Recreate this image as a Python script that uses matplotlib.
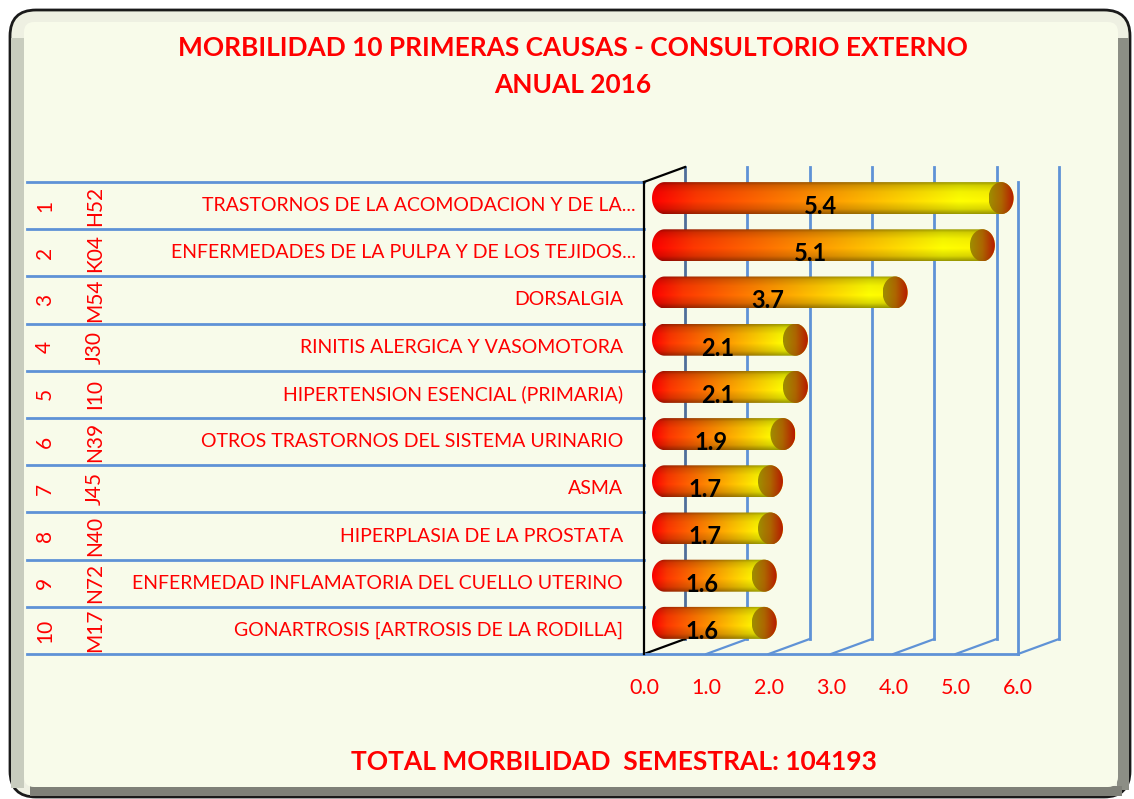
import numpy as np
import matplotlib
matplotlib.use("Agg")
import matplotlib.pyplot as plt
from matplotlib.patches import FancyBboxPatch, Rectangle, Ellipse, PathPatch
from matplotlib.path import Path
from matplotlib import transforms

# ---------------- data ----------------
ranks = ["1", "2", "3", "4", "5", "6", "7", "8", "9", "10"]
codes = ["H52", "K04", "M54", "J30", "I10", "N39", "J45", "N40", "N72", "M17"]
causes = [
    "TRASTORNOS DE LA ACOMODACION Y DE LA...",
    "ENFERMEDADES DE LA PULPA Y DE LOS TEJIDOS...",
    "DORSALGIA",
    "RINITIS ALERGICA Y VASOMOTORA",
    "HIPERTENSION ESENCIAL (PRIMARIA)",
    "OTROS TRASTORNOS DEL SISTEMA URINARIO",
    "ASMA",
    "HIPERPLASIA DE LA PROSTATA",
    "ENFERMEDAD INFLAMATORIA DEL CUELLO UTERINO",
    "GONARTROSIS [ARTROSIS DE LA RODILLA]",
]
values = [5.4, 5.1, 3.7, 2.1, 2.1, 1.9, 1.7, 1.7, 1.6, 1.6]
xticks = [0, 1, 2, 3, 4, 5, 6]
title1 = "MORBILIDAD 10 PRIMERAS CAUSAS - CONSULTORIO EXTERNO"
title2 = "ANUAL 2016"
footer = "TOTAL MORBILIDAD  SEMESTRAL: 104193"

# ---------------- style ----------------
W, H = 1134, 799
BG = "#F8FBEA"
RED = "#FF0000"
GRID = "#5F92D6"
FONT = "Lato"
plt.rcParams["font.family"] = [FONT, "DejaVu Sans"]

fig = plt.figure(figsize=(W / 100, H / 100), dpi=100)
fig.patch.set_facecolor("white")

# background / frame axes in pixel coordinates
bg = fig.add_axes([0, 0, 1, 1])
bg.set_xlim(0, W)
bg.set_ylim(H, 0)
bg.axis("off")
bg.add_patch(FancyBboxPatch((10, 10), 1120, 787, boxstyle="round,pad=0,rounding_size=26",
                            fc="#EEF0E2", ec="#1a1a1a", lw=2, zorder=0))
bg.add_patch(Rectangle((11, 38), 13, 750, fc="#C8CCBE", ec="none", zorder=1))
bg.add_patch(Rectangle((1117, 38), 12, 752, fc="#8C8E85", ec="none", zorder=1))
bg.add_patch(Rectangle((30, 786), 1092, 10, fc="#7F8078", ec="none", zorder=1))
bg.add_patch(FancyBboxPatch((24, 22), 1094, 765, boxstyle="round,pad=0,rounding_size=10",
                            fc=BG, ec="none", zorder=2))
bg.text(573, 48, title1, ha="center", va="center", color=RED, fontsize=18.9,
        fontweight="bold", zorder=5)
bg.text(573, 85, title2, ha="center", va="center", color=RED, fontsize=18.9,
        fontweight="bold", zorder=5)
bg.text(614, 762, footer, ha="center", va="center", color=RED, fontsize=19,
        fontweight="bold", zorder=5)

# chart axes: front plane, values 0..6 horizontally, categories as rows
L, R, T, B = 644, 1018, 182, 654
ax = fig.add_axes([L / W, 1 - B / H, (R - L) / W, (B - T) / H])
ax.patch.set_visible(False)
ax.axis("off")
n = len(values)
XMAX = xticks[-1]
ax.set_xlim(0, XMAX)
ax.set_ylim(n - 0.5, -0.5)
px_x = (R - L) / XMAX          # pixels per value unit
px_y = (B - T) / n             # pixels per row
DX = 41 / px_x                 # depth offset in data units
DY = -15 / px_y

ytop, ybot = -0.5, n - 0.5
# back wall gridlines
for t in xticks:
    col = "#4F6E9A" if t == 0 else GRID
    ax.plot([t + DX, t + DX], [ytop + DY, ybot + DY], color=col, lw=2, zorder=1, clip_on=False)
    ax.plot([t, t + DX], [ybot, ybot + DY], color=GRID if t else "black", lw=1.6, zorder=1, clip_on=False)
# floor front edge
ax.plot([0, XMAX], [ybot, ybot], color=GRID, lw=2, zorder=1, clip_on=False)
# right front edge
ax.plot([XMAX, XMAX], [ytop, ybot], color=GRID, lw=2, zorder=1, clip_on=False)
# left wall (front edge + top)
ax.plot([0, 0], [ytop, ybot], color="black", lw=1.6, zorder=6, clip_on=False)
ax.plot([0, DX], [ytop, ytop + DY], color="black", lw=1.6, zorder=6, clip_on=False)

# category table on the left
tx = transforms.blended_transform_factory(fig.transFigure, ax.transData)
for k in range(n + 1):
    ax.plot([27 / W, L / W], [k - 0.5, k - 0.5], color=GRID, lw=2, transform=tx, zorder=2, clip_on=False)
for i in range(n):
    ax.text(45 / W, i, ranks[i], rotation=90, ha="center", va="center", color=RED,
            fontsize=15, transform=tx)
    ax.text(95 / W, i, codes[i], rotation=90, ha="center", va="center", color=RED,
            fontsize=15, transform=tx)
    xr = 636 if causes[i].endswith("...") else 623
    ax.text(xr / W, i, causes[i], ha="right", va="center", color=RED,
            fontsize=14, transform=tx)

# x tick labels under the floor
for t in xticks:
    ax.text(t, ybot + 34 / px_y, f"{t:.1f}", ha="center", va="center", color=RED,
            fontsize=15.5, clip_on=False)

# cylinder bars (at middle depth)
a = 12.5 / px_x      # cap half width (data)
hh = 32 / px_y       # bar thickness (rows)
nx, ny = 200, 60
tt = np.linspace(0, 1, nx)
uu = np.linspace(0, 1, ny)
G = np.interp(tt, [0, 0.12, 0.5, 0.85, 1.0], [0.0, 0.22, 0.62, 1.0, 0.95])
shade = np.interp(uu, [0, 0.1, 0.3, 0.6, 0.85, 1.0], [0.62, 0.82, 0.95, 1.0, 0.85, 0.6])
body = np.zeros((ny, nx, 3))
body[..., 0] = shade[:, None] * 1.0
body[..., 1] = shade[:, None] * G[None, :]
body[..., 2] = 0.0
cap = np.zeros((ny, nx, 3))
cr = np.interp(tt, [0, 0.5, 1], [0.62, 0.68, 0.72])
cg = np.interp(tt, [0, 0.5, 1], [0.56, 0.40, 0.10])
cap[..., 0] = cr[None, :] * (0.85 + 0.15 * shade[:, None])
cap[..., 1] = cg[None, :] * (0.85 + 0.15 * shade[:, None])
cap[..., 2] = 0.0

th = np.linspace(np.pi / 2, 3 * np.pi / 2, 40)
for i, v in enumerate(values):
    yc = i + DY / 2
    x0 = DX / 2
    x1 = DX / 2 + v
    left = np.column_stack([x0 + a * np.cos(th), yc - (hh / 2) * np.sin(th)])
    right = np.column_stack([x1 - a * np.cos(th), yc + (hh / 2) * np.sin(th)])
    verts = np.vstack([left, right, left[:1]])
    codes_p = [Path.MOVETO] + [Path.LINETO] * (len(verts) - 2) + [Path.CLOSEPOLY]
    shape = PathPatch(Path(verts, codes_p), fc="none", ec="none", transform=ax.transData)
    ax.add_patch(shape)
    im = ax.imshow(body, extent=(x0 - a, x1 + a, yc + hh / 2, yc - hh / 2),
                   aspect="auto", origin="upper", zorder=4, interpolation="bilinear")
    im.set_clip_path(shape)
    ell = Ellipse((x1, yc), 2 * a, hh, fc="none", ec="none", transform=ax.transData)
    ax.add_patch(ell)
    im2 = ax.imshow(cap, extent=(x1 - a, x1 + a, yc + hh / 2, yc - hh / 2),
                    aspect="auto", origin="upper", zorder=5, interpolation="bilinear")
    im2.set_clip_path(ell)
    ax.text(8 / px_x + v / 2, i + 0.02, f"{v:.1f}", ha="center", va="center",
            fontsize=17, fontweight="bold", color="black", zorder=7)

ax.set_xlim(0, XMAX)
ax.set_ylim(n - 0.5, -0.5)

fig.savefig("out.png", dpi=100, facecolor=fig.get_facecolor())
